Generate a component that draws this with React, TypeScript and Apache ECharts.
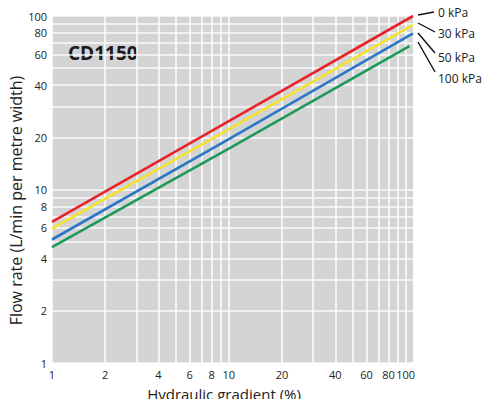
import React, { useEffect, useRef } from "react";
import * as echarts from "echarts";

// Hydraulic gradient (%) at which each curve was read
const gradients = [1, 10, 110];
const greenGradients = [1, 10, 105];
// Flow rate (L/min per metre width) for each confining pressure
const kpa0 = [6.5, 24.8, 100];
const kpa30 = [5.95, 22.2, 89];
const kpa50 = [5.15, 19.5, 79.5];
const kpa100 = [4.65, 17.2, 67];
const seriesNames = ["0 kPa", "30 kPa", "50 kPa", "100 kPa"];
const xTickLabels = [1, 2, 4, 6, 8, 10, 20, 40, 60, 80, 100];
const yTickLabels = [1, 2, 4, 6, 8, 10, 20, 40, 60, 80, 100];
const gridValues = [1, 2, 3, 4, 5, 6, 7, 8, 9, 10, 20, 30, 40, 50, 60, 70, 80, 90, 100];

const colors = ["#e8242a", "#f3e232", "#2b78c6", "#1c9a5a"];
const FONT = "'Open Sans', 'Noto Sans', sans-serif";
const TEXT = "#222";

export default function App() {
  const ref = useRef<HTMLDivElement>(null);
  useEffect(() => {
    if (!ref.current) return;
    const chart = echarts.init(ref.current, null, { renderer: "svg" });
    const values = [kpa0, kpa30, kpa50, kpa100];
    const dataSeries = values.map((v, i) => ({
      name: seriesNames[i],
      type: "line",
      z: 3,
      showSymbol: false,
      silent: true,
      data: (i === 3 ? greenGradients : gradients).map((x, k) => [x, v[k]]),
      lineStyle: { color: colors[i], width: 2.6 },
      itemStyle: { color: colors[i] },
    }));
    const labelFmt = (p: any) => String(p.value);
    const legendY = [12, 33, 57, 78];
    const leaders = [
      [418, 15, 434, 12],
      [418, 23, 435, 32],
      [418, 33, 435, 53],
      [418, 42, 435, 72],
    ];
    const option: any = {
      animation: false,
      textStyle: { fontFamily: FONT },
      grid: {
        left: 52,
        right: 78,
        top: 16,
        bottom: 44,
        show: true,
        backgroundColor: "#d4d4d4",
        borderWidth: 0,
        outerBoundsMode: "none",
        containLabel: false,
      },
      xAxis: {
        type: "log",
        logBase: 10,
        min: 1,
        max: 110,
        name: "Hydraulic gradient (%)",
        nameLocation: "middle",
        nameGap: 23,
        nameTextStyle: { fontSize: 15, color: TEXT, fontFamily: FONT, padding: [0, 17, 0, 0] },
        axisLabel: { show: false },
        axisLine: { show: false },
        axisTick: { show: false },
        splitLine: { show: false },
      },
      yAxis: {
        type: "log",
        logBase: 10,
        min: 1,
        max: 100,
        name: "Flow rate (L/min per metre width)",
        nameLocation: "middle",
        nameGap: 28,
        nameTextStyle: { fontSize: 16, color: TEXT, fontFamily: FONT, padding: [0, 22, 0, 0] },
        axisLabel: { show: false },
        axisLine: { show: false },
        axisTick: { show: false },
        splitLine: { show: false },
      },
      series: [
        {
          type: "line",
          data: [],
          silent: true,
          z: 1,
          markLine: {
            silent: true,
            z: 1,
            symbol: ["none", "none"],
            label: { show: false },
            lineStyle: { color: "#ffffff", width: 1.6, type: "solid", opacity: 0.9 },
            data: [
              ...gridValues.map((v) => ({ xAxis: v })),
              ...gridValues.map((v) => ({ yAxis: v })),
            ],
          },
        },
        {
          type: "line",
          data: [],
          silent: true,
          z: 1,
          markLine: {
            silent: true,
            z: 1,
            symbol: ["none", "none"],
            lineStyle: { color: "rgba(0,0,0,0)", width: 0 },
            label: {
              show: true,
              position: "start",
              formatter: labelFmt,
              color: TEXT,
              fontSize: 11,
              fontFamily: FONT,
              distance: 6,
            },
            data: xTickLabels.map((v) => ({ xAxis: v })),
          },
        },
        {
          type: "line",
          data: [],
          silent: true,
          z: 1,
          markLine: {
            silent: true,
            z: 1,
            symbol: ["none", "none"],
            lineStyle: { color: "rgba(0,0,0,0)", width: 0 },
            label: {
              show: true,
              position: "start",
              formatter: labelFmt,
              color: TEXT,
              fontSize: 11,
              fontFamily: FONT,
              distance: 5,
            },
            data: yTickLabels.map((v) => ({ yAxis: v })),
          },
        },
        ...dataSeries,
      ],
      graphic: [
        {
          type: "text",
          left: 68,
          top: 43,
          style: { text: "CD1150", font: `bold 19px ${FONT}`, fill: "#1a1a1a" },
        },
        ...leaders.map((l) => ({
          type: "line",
          shape: { x1: l[0], y1: l[1], x2: l[2], y2: l[3] },
          style: { stroke: "#111", lineWidth: 1.4 },
        })),
        ...seriesNames.map((n, i) => ({
          type: "text",
          x: 438,
          y: legendY[i],
          style: { text: n, font: `12px ${FONT}`, fill: TEXT, textVerticalAlign: "middle" },
        })),
      ],
    };
    chart.setOption(option);
    return () => chart.dispose();
  }, []);
  return <div ref={ref} style={{ width: 491, height: 407, margin: -8 }} />;
}
